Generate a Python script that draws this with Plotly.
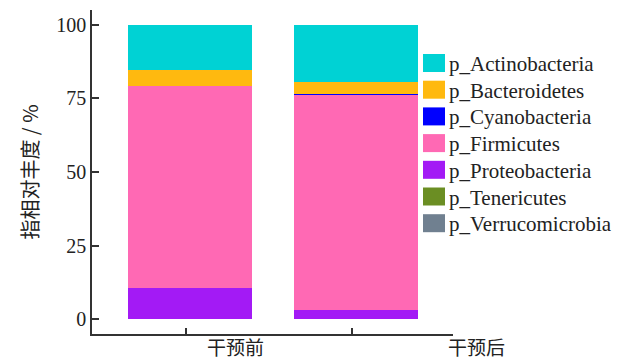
import plotly.graph_objects as go

# Relative abundance (%) of bacterial phyla, before and after intervention
groups = ["干预前", "干预后"]
phyla = [
    "p_Actinobacteria",
    "p_Bacteroidetes",
    "p_Cyanobacteria",
    "p_Firmicutes",
    "p_Proteobacteria",
    "p_Tenericutes",
    "p_Verrucomicrobia",
]
actinobacteria = [15.4, 19.6]
bacteroidetes = [5.3, 4.0]
cyanobacteria = [0.0, 0.2]
firmicutes = [68.6, 73.2]
proteobacteria = [10.7, 3.0]
tenericutes = [0.0, 0.0]
verrucomicrobia = [0.0, 0.0]

values = [actinobacteria, bacteroidetes, cyanobacteria, firmicutes,
          proteobacteria, tenericutes, verrucomicrobia]
colors = ["#00D2D4", "#FFB90F", "#0000FF", "#FF69B4",
          "#A31AF5", "#6B8E23", "#708090"]

y_ticks = [0, 25, 50, 75, 100]

SERIF = "Liberation Serif"
CJK = "Noto Sans CJK SC"
INK = "#222"

W, H = 628, 362
M_L, M_R, M_T, M_B = 92, 175, 10, 28
PW, PH = W - M_L - M_R, H - M_T - M_B


def px_x(px):
    """page pixel column -> paper x"""
    return (px - M_L) / PW


def px_y(py):
    """page pixel row -> paper y"""
    return (H - M_B - py) / PH


fig = go.Figure()
# stack from the bottom up: last phylum first
for name, vals, col in reversed(list(zip(phyla, values, colors))):
    fig.add_trace(go.Bar(
        x=groups, y=vals, name=name,
        marker=dict(color=col, line=dict(width=0)),
        width=0.745, offset=-0.35, showlegend=False,
    ))

# group labels under the axis
label_px = [235, 476]
for g, px in zip(groups, label_px):
    fig.add_annotation(
        text=g, x=px_x(px), y=px_y(361), xref="paper", yref="paper",
        xanchor="center", yanchor="bottom", showarrow=False,
        font=dict(family=CJK, size=19, color=INK), borderpad=0,
    )

# legend: colour swatch + phylum name
LEG_X0, LEG_SW_W, LEG_SW_H = 423, 22, 18
LEG_Y0, LEG_STEP = 63, 26.7
for i, (name, col) in enumerate(zip(phyla, colors)):
    cy = LEG_Y0 + i * LEG_STEP
    fig.add_shape(
        type="rect", xref="paper", yref="paper",
        x0=px_x(LEG_X0), x1=px_x(LEG_X0 + LEG_SW_W),
        y0=px_y(cy + LEG_SW_H / 2), y1=px_y(cy - LEG_SW_H / 2),
        fillcolor=col, line=dict(width=0), layer="above",
    )
    fig.add_annotation(
        text=name, x=px_x(LEG_X0 + LEG_SW_W + 2), y=px_y(cy + 1),
        xref="paper", yref="paper", xanchor="left", yanchor="middle",
        showarrow=False, font=dict(family=SERIF, size=21, color=INK),
    )

fig.update_layout(
    width=W, height=H,
    margin=dict(l=M_L, r=M_R, t=M_T, b=M_B),
    barmode="stack",
    plot_bgcolor="white", paper_bgcolor="white",
    font=dict(family=SERIF, size=20, color=INK),
    showlegend=False,
    xaxis=dict(
        range=[-0.566, 1.608],
        showline=True, linecolor="#333", linewidth=1.5,
        ticks="inside", ticklen=6, tickcolor="#333", tickwidth=1.5,
        showticklabels=False, showgrid=False, zeroline=False,
    ),
    yaxis=dict(
        range=[-5, 105],
        tickvals=y_ticks,
        showline=True, linecolor="#333", linewidth=1.5,
        ticks="inside", ticklen=7, tickcolor="#333", tickwidth=1.5,
        showgrid=False, zeroline=False,
        tickfont=dict(family=SERIF, size=20, color=INK),
        title=dict(text="指相对丰度 / %", standoff=12,
                   font=dict(family=CJK, size=20, color=INK)),
    ),
)

fig.write_html("out.html")
